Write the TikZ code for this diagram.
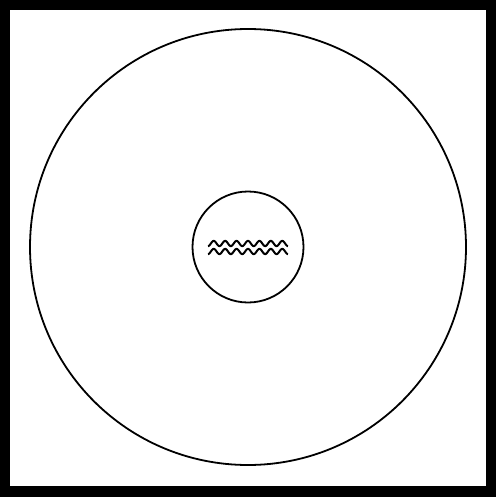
\documentclass[tikz,border=0pt]{standalone}
\begin{document}
\begin{tikzpicture}[x=1pt,y=-1pt,
  ring/.style={circle,draw=black,line width=1.8pt,inner sep=0pt},
  wave/.style={line width=2pt,black,line join=round}]
\useasboundingbox (0,0) rectangle (496,497);
\fill[black] (0,0) rectangle (496,497);
\fill[white] (10,10) rectangle (486,486);
\node[ring,minimum size=436pt] (outer) at (248,247) {};
\node[ring,minimum size=111pt] (inner) at (248,247) {};
\draw[wave] plot[domain=0:80,samples=240,smooth] ({208+\x},{243.5-2.6*sin(\x*31.5+270)});
\draw[wave] plot[domain=0:80,samples=240,smooth] ({208+\x},{251.5-2.6*sin(\x*31.5+270)});
\end{tikzpicture}
\end{document}
